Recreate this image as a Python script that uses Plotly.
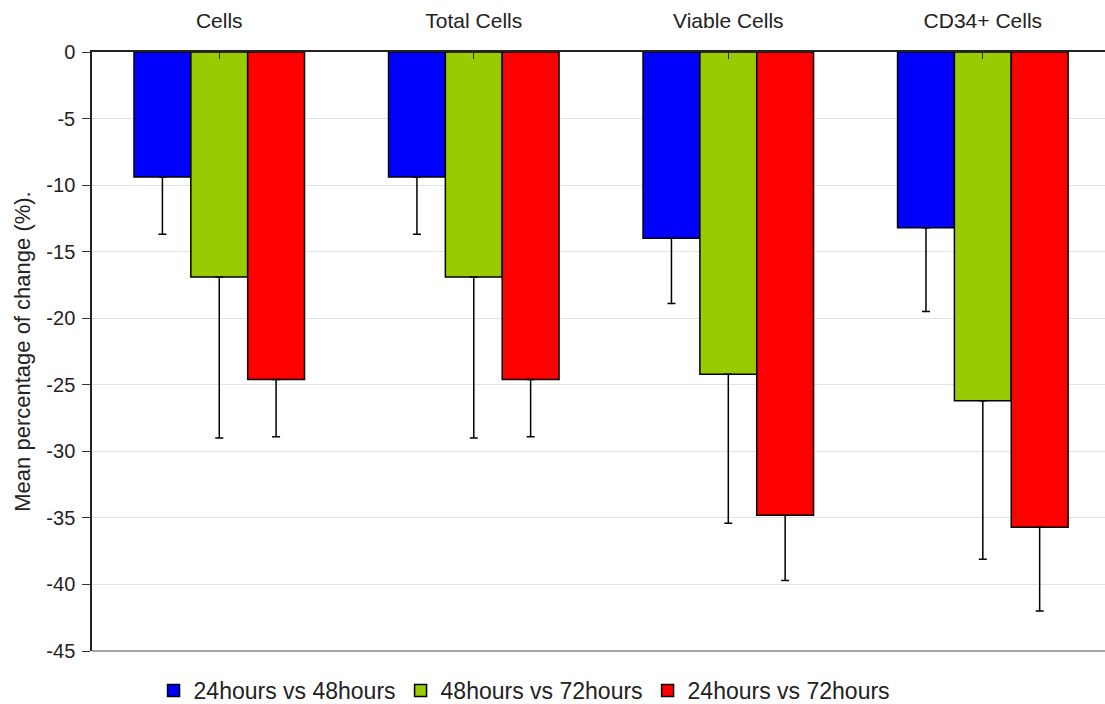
import plotly.graph_objects as go

categories = ["Cells", "Total Cells", "Viable Cells", "CD34+ Cells"]
series_names = ["24hours vs 48hours", "48hours vs 72hours", "24hours vs 72hours"]
vals_24_48 = [-9.4, -9.4, -14.0, -13.2]
err_24_48 = [4.3, 4.3, 4.9, 6.3]
vals_48_72 = [-16.9, -16.9, -24.2, -26.2]
err_48_72 = [12.1, 12.1, 11.2, 11.9]
vals_24_72 = [-24.6, -24.6, -34.8, -35.7]
err_24_72 = [4.3, 4.3, 4.9, 6.3]
colors = ["#0000FF", "#99CC00", "#FF0000"]
y_ticks = [0, -5, -10, -15, -20, -25, -30, -35, -40, -45]

FONT = "Liberation Sans, Arial, sans-serif"

fig = go.Figure()
for name, vals, errs, col in zip(series_names,
                                 [vals_24_48, vals_48_72, vals_24_72],
                                 [err_24_48, err_48_72, err_24_72],
                                 colors):
    fig.add_trace(go.Bar(
        x=list(range(len(categories))), y=vals, name=name,
        marker=dict(color=col, line=dict(color="black", width=1.5)),
        error_y=dict(type="data", symmetric=False, array=[0] * len(errs),
                     arrayminus=errs, color="black", thickness=1.5, width=4),
    ))

fig.update_layout(
    width=1105, height=704,
    margin=dict(l=92, r=0, t=52, b=53, autoexpand=False),
    paper_bgcolor="white", plot_bgcolor="white",
    barmode="group", bargap=0.33, bargroupgap=0,
    font=dict(family=FONT, size=20, color="#222"),
    showlegend=True,
    legend=dict(orientation="h", x=0.427, xanchor="center", y=-0.066, yanchor="middle",
                font=dict(size=23, color="#222"), itemwidth=30, traceorder="normal",
                tracegroupgap=0),
)
fig.update_xaxes(
    side="top", range=[-0.5, 3.48], automargin=False,
    tickvals=list(range(len(categories))), ticktext=categories,
    tickson="boundaries", ticks="inside", ticklen=7, tickcolor="#333",
    ticklabelstandoff=14,
    showline=True, linecolor="#222", linewidth=1.5,
    showgrid=False, zeroline=False,
    tickfont=dict(size=21, color="#222"),
)
fig.update_yaxes(
    range=[-45, 0], automargin=False,
    tickvals=y_ticks, ticktext=[str(v) for v in y_ticks],
    ticks="outside", ticklen=8, tickcolor="#333", ticklabelstandoff=3,
    showline=True, linecolor="#222", linewidth=1.5,
    showgrid=True, gridcolor="#e2e2e2", gridwidth=1, zeroline=False,
    tickfont=dict(size=20, color="#222"),
    title=dict(text="Mean percentage of change (%).", font=dict(size=22, color="#222"), standoff=10),
)
fig.add_shape(type="line", xref="paper", yref="paper", x0=0, x1=1, y0=0, y1=0,
              line=dict(color="#888", width=1.5))

fig.write_html(
    "out.html",
    config={"displayModeBar": False},
    post_script="document.body.style.margin='0';document.body.style.overflow='hidden';",
)
